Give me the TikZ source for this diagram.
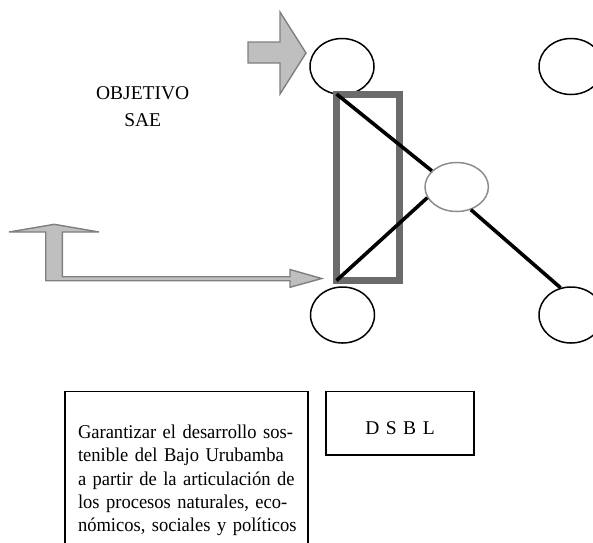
\documentclass[tikz,border=0pt]{standalone}
\usepackage{fontspec}
\setmainfont{Liberation Serif}
\newfontfamily\textocaja[FakeStretch=0.95]{Liberation Serif}
\usepackage{tikz}
\usetikzlibrary{shapes.geometric}
\usetikzlibrary{calc}

\definecolor{flecha}{HTML}{BFBFBF}
\definecolor{bordeflecha}{HTML}{7F7F7F}
\definecolor{marco}{HTML}{6B6B6B}
\definecolor{medio}{HTML}{8C8C8C}

\begin{document}
\begin{tikzpicture}[x=1pt,y=-1pt,
    circ/.style={ellipse,draw=black,line width=1.5pt,minimum width=64pt,minimum height=56pt,inner sep=0pt},
    enlace/.style={line width=3.6pt,black},
    bloque/.style={fill=flecha,draw=bordeflecha,line width=1.4pt,line join=miter}]
     \useasboundingbox (0,0) rectangle (593,542);
     \clip (0,0) rectangle (593,542);
     %circulos
     \foreach \n/\x/\y in {arribaI/342/66.5,arribaD/571/66.5,abajoI/342.5/315,abajoD/571/315}  {
     	\node[circ] (\n) at (\x,\y) {};
     }
     \node[ellipse,draw=medio,line width=1.5pt,minimum width=63.4pt,minimum height=49pt,inner sep=0pt] (centro) at (456.7,187) {};
     
     %marco gris
     \node[draw=marco,line width=7pt,minimum width=63pt,minimum height=186.5pt,inner sep=0pt,outer sep=0pt] (marco) at (368,187.25) {};
     
     \draw[enlace] (marco.north west) -- (centro.147);
     \draw[enlace] (marco.south west) -- (centro.200);
     \draw[enlace] (centro.-58) -- (abajoD.111);
     
     %flechas
     \filldraw[bloque] (248,42) -- (280,42) -- (280,12) -- (306,53) -- (280,94) -- (280,63) -- (248,63) -- cycle;
     \filldraw[bloque] (9,232) -- (54.3,224.3) -- (99,232) -- (62.3,232) -- (62.3,276.7) -- (290,276.7) -- (290,269.5)
     	-- (321.7,278.5) -- (290,287.3) -- (290,280.7) -- (45.7,280.7) -- (45.7,232) -- cycle;
     
     \node (objetivo) at (142.7,107) [align=center,font=\fontsize{19.5}{27}\selectfont]{OBJETIVO\\SAE};
     
     %cuadros de texto
     \draw[line width=1.3pt] (65,560) -- (65,391.7) -- (308,391.7) -- (308,560);
     \node (garantizar) at (186.5,424.5) [anchor=north,inner sep=0pt,text width=217pt,align=left,
     	font=\textocaja\fontsize{19.5}{23.4}\selectfont]{%
     	\makebox[\linewidth][s]{Garantizar el desarrollo sos-}\\
     	\makebox[\linewidth][s]{tenible del Bajo Urubamba}\\
     	\makebox[\linewidth][s]{a partir de la articulación de}\\
     	\makebox[\linewidth][s]{los procesos naturales, eco-}\\
     	\makebox[\linewidth][s]{nómicos, sociales y políticos}};
     \node (dsbl) at (400,423.3) [draw,line width=1.3pt,minimum width=148pt,minimum height=63.3pt,
     	text height=22pt,text depth=0pt,font=\fontsize{19.5}{22}\selectfont]{D\,\,S\,\,B\,\,L};
     
     \end{tikzpicture}
\end{document}
